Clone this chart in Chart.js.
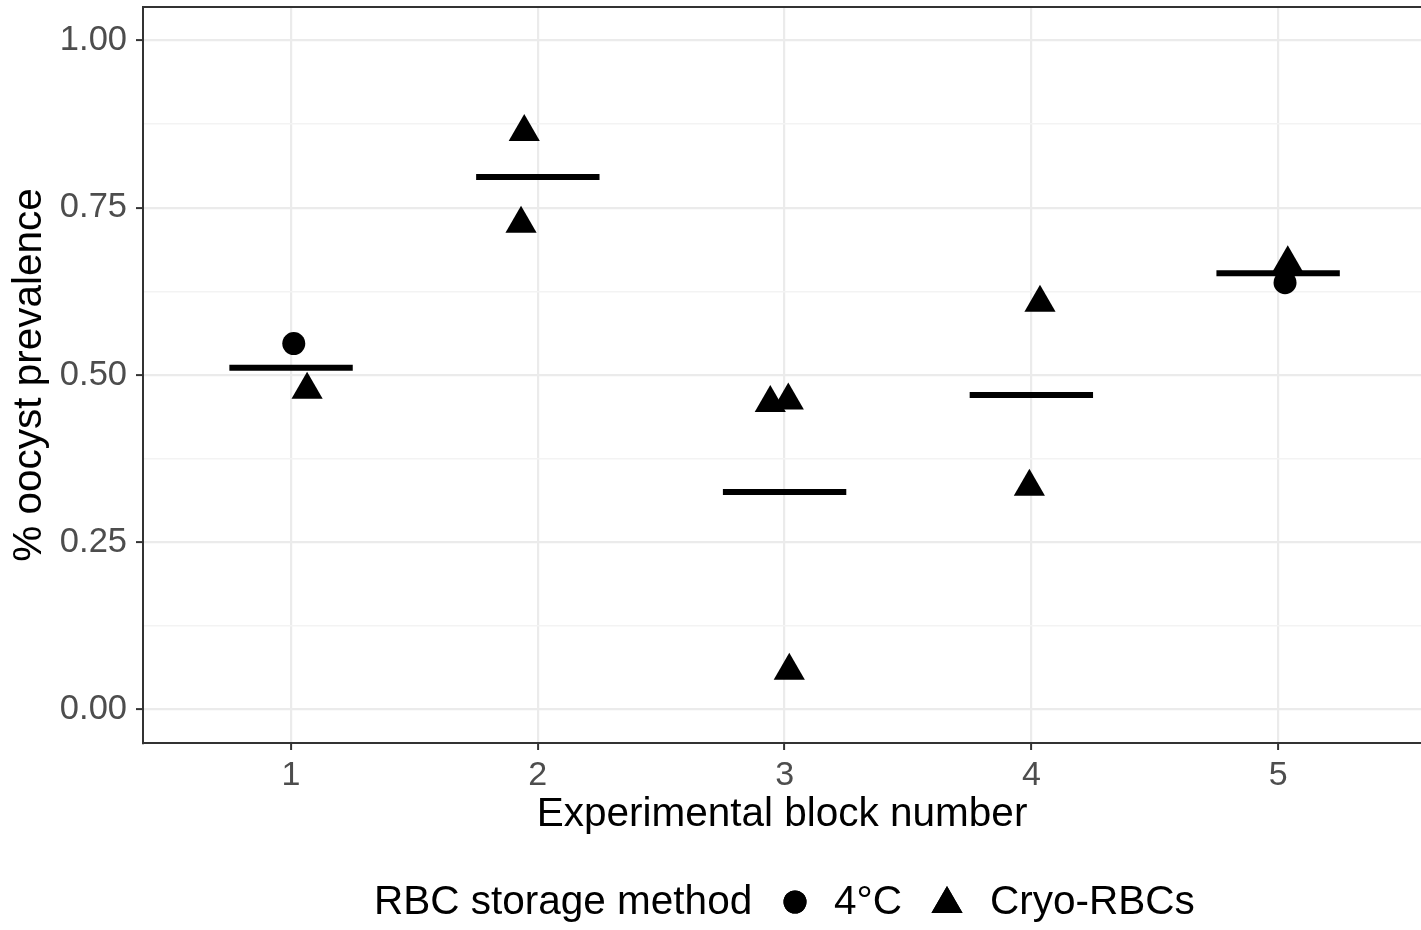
<!DOCTYPE html>
<html>
<head>
<meta charset="utf-8">
<script src="https://cdn.jsdelivr.net/npm/chart.js@4.4.1/dist/chart.umd.min.js"></script>
<style>
  html, body { margin: 0; padding: 0; background: #fff; overflow: hidden; }
  #wrap { width: 1421px; height: 930px; position: relative; }
</style>
</head>
<body>
<div id="wrap"><canvas id="c" width="1421" height="930"></canvas></div>
<script>
// Experimental blocks and tick labels
const blocks = [1, 2, 3, 4, 5];
const xTickLabels = ['1', '2', '3', '4', '5'];
const yTickValues = [0, 0.125, 0.25, 0.375, 0.5, 0.625, 0.75, 0.875, 1];

// 4°C stored RBCs: jittered block position and oocyst prevalence
const coldX = [1.011, 5.028];
const coldY = [0.547, 0.638];

// Cryopreserved RBCs: jittered block position and oocyst prevalence
const cryoX = [1.065, 1.945, 1.932, 2.942, 3.015, 3.019, 4.035, 3.992, 5.039];
const cryoY = [0.478, 0.863, 0.726, 0.458, 0.462, 0.058, 0.608, 0.333, 0.667];

// Mean prevalence per block (horizontal bars)
const blockMeans = [0.511, 0.796, 0.325, 0.470, 0.652];

const FONT = "'Liberation Sans', Arial, sans-serif";
const HALF_BAR = 0.25;

// Mean bars as a single line dataset broken by gaps between blocks
const meanData = [];
blocks.forEach((b, i) => {
  meanData.push({ x: b - HALF_BAR, y: blockMeans[i] });
  meanData.push({ x: b + HALF_BAR, y: blockMeans[i] });
  meanData.push({ x: b + HALF_BAR, y: null });
});

const isMajor = v => Math.abs(v * 4 - Math.round(v * 4)) < 1e-6;

// Top edge of the panel frame
const panelTop = {
  id: 'panelTop',
  afterDraw(chart) {
    const { ctx, chartArea } = chart;
    ctx.save();
    ctx.strokeStyle = '#333333';
    ctx.lineWidth = 2;
    ctx.beginPath();
    ctx.moveTo(chartArea.left - 1, chartArea.top);
    ctx.lineTo(chartArea.right + 1, chartArea.top);
    ctx.stroke();
    ctx.restore();
  }
};

// Horizontal legend: title followed by shape keys
const shapeLegend = {
  id: 'shapeLegend',
  afterDraw(chart) {
    const ctx = chart.ctx;
    const y = 903;
    ctx.save();
    ctx.fillStyle = '#000';
    ctx.font = "40.5px " + FONT;
    ctx.textBaseline = 'middle';
    ctx.textAlign = 'left';
    ctx.fillText('RBC storage method', 374, y);
    ctx.fillText('4°C', 834, y);
    ctx.fillText('Cryo-RBCs', 990, y);
    Chart.helpers.drawPoint(ctx, { pointStyle: 'circle', radius: 11.5, borderWidth: 0 }, 795, 902);
    ctx.fill();
    Chart.helpers.drawPoint(ctx, { pointStyle: 'triangle', radius: 18, borderWidth: 0 }, 947, 904);
    ctx.fill();
    ctx.restore();
  }
};

new Chart(document.getElementById('c').getContext('2d'), {
  type: 'scatter',
  data: {
    datasets: [
      {
        label: 'Mean',
        type: 'line',
        data: meanData,
        borderColor: '#000',
        borderWidth: 6,
        borderCapStyle: 'butt',
        pointRadius: 0,
        spanGaps: false,
        fill: false
      },
      {
        label: '4°C',
        data: coldX.map((x, i) => ({ x, y: coldY[i] })),
        pointStyle: 'circle',
        pointRadius: 11.5,
        backgroundColor: '#000',
        borderColor: '#000',
        borderWidth: 0
      },
      {
        label: 'Cryo-RBCs',
        data: cryoX.map((x, i) => ({ x, y: cryoY[i] })),
        pointStyle: 'triangle',
        pointRadius: 18,
        backgroundColor: '#000',
        borderColor: '#000',
        borderWidth: 0
      }
    ]
  },
  options: {
    responsive: false,
    animation: false,
    layout: { autoPadding: false, padding: { top: 7, right: 0, bottom: 94.5, left: 0 } },
    plugins: { legend: { display: false }, tooltip: { enabled: false } },
    scales: {
      x: {
        type: 'linear',
        min: 0.4,
        max: 5.579,
        afterBuildTicks: s => { s.ticks = blocks.map(v => ({ value: v })); },
        afterFit: s => { s.height = 92.5; s.paddingLeft = 0; s.paddingRight = 0; },
        ticks: {
          autoSkip: false,
          maxRotation: 0,
          padding: 5,
          color: '#4d4d4d',
          font: { family: FONT, size: 34 },
          callback: (v, i) => xTickLabels[i]
        },
        grid: {
          color: '#ebebeb',
          lineWidth: 2.2,
          tickColor: '#333333',
          tickLength: 7,
          tickWidth: 2
        },
        border: { color: '#333333', width: 2 },
        title: {
          display: true,
          text: 'Experimental block number',
          color: '#000',
          font: { family: FONT, size: 40.5, lineHeight: 1 },
          padding: 0
        }
      },
      y: {
        type: 'linear',
        min: -0.05,
        max: 1.05,
        afterBuildTicks: s => { s.ticks = yTickValues.map(v => ({ value: v })); },
        afterFit: s => { s.width = 143; s.paddingTop = 0; s.paddingBottom = 0; },
        ticks: {
          autoSkip: false,
          padding: 9,
          color: '#4d4d4d',
          font: { family: FONT, size: 34.5 },
          callback: v => isMajor(v) ? v.toFixed(2) : ''
        },
        grid: {
          color: c => isMajor(c.tick.value) ? '#ebebeb' : '#f3f3f3',
          lineWidth: c => isMajor(c.tick.value) ? 2.2 : 1.4,
          tickColor: c => isMajor(c.tick.value) ? '#333333' : 'rgba(0,0,0,0)',
          tickLength: 7,
          tickWidth: 2
        },
        border: { color: '#333333', width: 2 },
        title: {
          display: true,
          text: '% oocyst prevalence',
          color: '#000',
          font: { family: FONT, size: 40.5, lineHeight: 1 },
          padding: { top: 10, bottom: 0 }
        }
      }
    }
  },
  plugins: [panelTop, shapeLegend]
});
</script>
</body>
</html>
